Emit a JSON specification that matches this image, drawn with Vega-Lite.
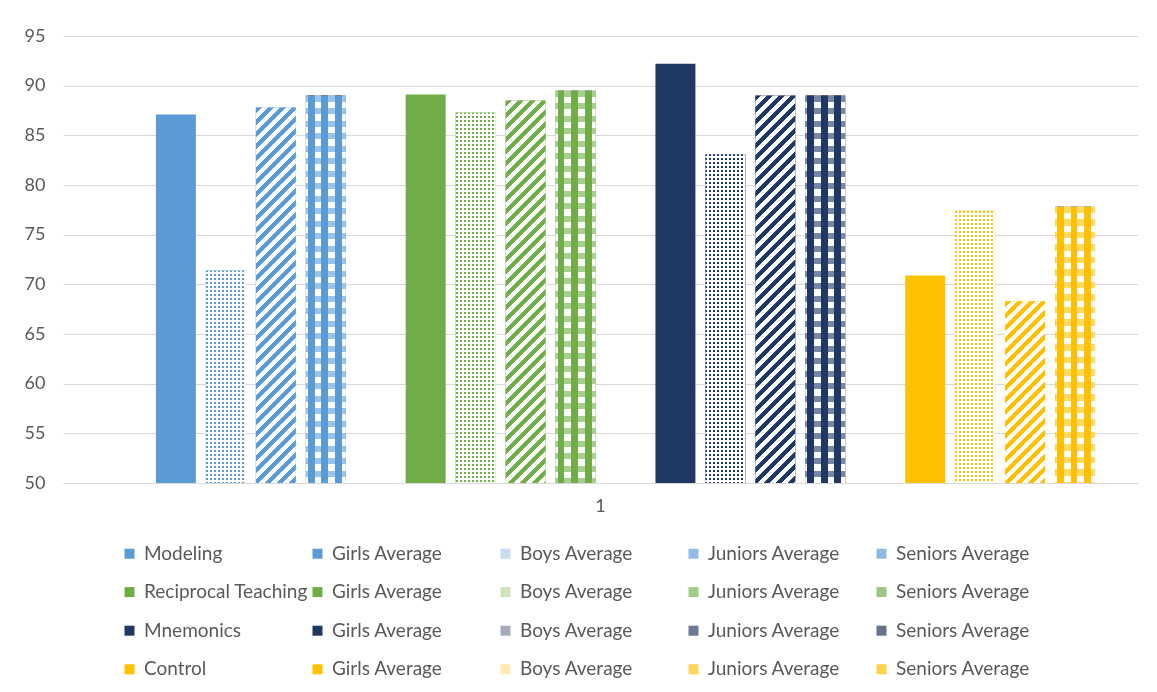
{
 "$schema": "https://vega.github.io/schema/vega-lite/v6.json",
 "width": 1075,
 "height": 447,
 "autosize": {"type": "none"},
 "padding": {"left": 63, "top": 36, "right": 19, "bottom": 209},
 "background": "white",
 "config": {"view": {"stroke": null}, "font": "Lato"},
 "params": [
  {"name": "stripes", "value": [
   {"offset":0,"color":"#fff0"},{"offset":0.0125,"color":"#fff0"},{"offset":0.0125,"color":"#fff"},{"offset":0.025,"color":"#fff"},
   {"offset":0.025,"color":"#fff0"},{"offset":0.0375,"color":"#fff0"},{"offset":0.0375,"color":"#fff"},{"offset":0.05,"color":"#fff"},
   {"offset":0.05,"color":"#fff0"},{"offset":0.0625,"color":"#fff0"},{"offset":0.0625,"color":"#fff"},{"offset":0.075,"color":"#fff"},
   {"offset":0.075,"color":"#fff0"},{"offset":0.0875,"color":"#fff0"},{"offset":0.0875,"color":"#fff"},{"offset":0.1,"color":"#fff"},
   {"offset":0.1,"color":"#fff0"},{"offset":0.1125,"color":"#fff0"},{"offset":0.1125,"color":"#fff"},{"offset":0.125,"color":"#fff"},
   {"offset":0.125,"color":"#fff0"},{"offset":0.1375,"color":"#fff0"},{"offset":0.1375,"color":"#fff"},{"offset":0.15,"color":"#fff"},
   {"offset":0.15,"color":"#fff0"},{"offset":0.1625,"color":"#fff0"},{"offset":0.1625,"color":"#fff"},{"offset":0.175,"color":"#fff"},
   {"offset":0.175,"color":"#fff0"},{"offset":0.1875,"color":"#fff0"},{"offset":0.1875,"color":"#fff"},{"offset":0.2,"color":"#fff"},
   {"offset":0.2,"color":"#fff0"},{"offset":0.2125,"color":"#fff0"},{"offset":0.2125,"color":"#fff"},{"offset":0.225,"color":"#fff"},
   {"offset":0.225,"color":"#fff0"},{"offset":0.2375,"color":"#fff0"},{"offset":0.2375,"color":"#fff"},{"offset":0.25,"color":"#fff"},
   {"offset":0.25,"color":"#fff0"},{"offset":0.2625,"color":"#fff0"},{"offset":0.2625,"color":"#fff"},{"offset":0.275,"color":"#fff"},
   {"offset":0.275,"color":"#fff0"},{"offset":0.2875,"color":"#fff0"},{"offset":0.2875,"color":"#fff"},{"offset":0.3,"color":"#fff"},
   {"offset":0.3,"color":"#fff0"},{"offset":0.3125,"color":"#fff0"},{"offset":0.3125,"color":"#fff"},{"offset":0.325,"color":"#fff"},
   {"offset":0.325,"color":"#fff0"},{"offset":0.3375,"color":"#fff0"},{"offset":0.3375,"color":"#fff"},{"offset":0.35,"color":"#fff"},
   {"offset":0.35,"color":"#fff0"},{"offset":0.3625,"color":"#fff0"},{"offset":0.3625,"color":"#fff"},{"offset":0.375,"color":"#fff"},
   {"offset":0.375,"color":"#fff0"},{"offset":0.3875,"color":"#fff0"},{"offset":0.3875,"color":"#fff"},{"offset":0.4,"color":"#fff"},
   {"offset":0.4,"color":"#fff0"},{"offset":0.4125,"color":"#fff0"},{"offset":0.4125,"color":"#fff"},{"offset":0.425,"color":"#fff"},
   {"offset":0.425,"color":"#fff0"},{"offset":0.4375,"color":"#fff0"},{"offset":0.4375,"color":"#fff"},{"offset":0.45,"color":"#fff"},
   {"offset":0.45,"color":"#fff0"},{"offset":0.4625,"color":"#fff0"},{"offset":0.4625,"color":"#fff"},{"offset":0.475,"color":"#fff"},
   {"offset":0.475,"color":"#fff0"},{"offset":0.4875,"color":"#fff0"},{"offset":0.4875,"color":"#fff"},{"offset":0.5,"color":"#fff"},
   {"offset":0.5,"color":"#fff0"},{"offset":0.5125,"color":"#fff0"},{"offset":0.5125,"color":"#fff"},{"offset":0.525,"color":"#fff"},
   {"offset":0.525,"color":"#fff0"},{"offset":0.5375,"color":"#fff0"},{"offset":0.5375,"color":"#fff"},{"offset":0.55,"color":"#fff"},
   {"offset":0.55,"color":"#fff0"},{"offset":0.5625,"color":"#fff0"},{"offset":0.5625,"color":"#fff"},{"offset":0.575,"color":"#fff"},
   {"offset":0.575,"color":"#fff0"},{"offset":0.5875,"color":"#fff0"},{"offset":0.5875,"color":"#fff"},{"offset":0.6,"color":"#fff"},
   {"offset":0.6,"color":"#fff0"},{"offset":0.6125,"color":"#fff0"},{"offset":0.6125,"color":"#fff"},{"offset":0.625,"color":"#fff"},
   {"offset":0.625,"color":"#fff0"},{"offset":0.6375,"color":"#fff0"},{"offset":0.6375,"color":"#fff"},{"offset":0.65,"color":"#fff"},
   {"offset":0.65,"color":"#fff0"},{"offset":0.6625,"color":"#fff0"},{"offset":0.6625,"color":"#fff"},{"offset":0.675,"color":"#fff"},
   {"offset":0.675,"color":"#fff0"},{"offset":0.6875,"color":"#fff0"},{"offset":0.6875,"color":"#fff"},{"offset":0.7,"color":"#fff"},
   {"offset":0.7,"color":"#fff0"},{"offset":0.7125,"color":"#fff0"},{"offset":0.7125,"color":"#fff"},{"offset":0.725,"color":"#fff"},
   {"offset":0.725,"color":"#fff0"},{"offset":0.7375,"color":"#fff0"},{"offset":0.7375,"color":"#fff"},{"offset":0.75,"color":"#fff"},
   {"offset":0.75,"color":"#fff0"},{"offset":0.7625,"color":"#fff0"},{"offset":0.7625,"color":"#fff"},{"offset":0.775,"color":"#fff"},
   {"offset":0.775,"color":"#fff0"},{"offset":0.7875,"color":"#fff0"},{"offset":0.7875,"color":"#fff"},{"offset":0.8,"color":"#fff"},
   {"offset":0.8,"color":"#fff0"},{"offset":0.8125,"color":"#fff0"},{"offset":0.8125,"color":"#fff"},{"offset":0.825,"color":"#fff"},
   {"offset":0.825,"color":"#fff0"},{"offset":0.8375,"color":"#fff0"},{"offset":0.8375,"color":"#fff"},{"offset":0.85,"color":"#fff"},
   {"offset":0.85,"color":"#fff0"},{"offset":0.8625,"color":"#fff0"},{"offset":0.8625,"color":"#fff"},{"offset":0.875,"color":"#fff"},
   {"offset":0.875,"color":"#fff0"},{"offset":0.8875,"color":"#fff0"},{"offset":0.8875,"color":"#fff"},{"offset":0.9,"color":"#fff"},
   {"offset":0.9,"color":"#fff0"},{"offset":0.9125,"color":"#fff0"},{"offset":0.9125,"color":"#fff"},{"offset":0.925,"color":"#fff"},
   {"offset":0.925,"color":"#fff0"},{"offset":0.9375,"color":"#fff0"},{"offset":0.9375,"color":"#fff"},{"offset":0.95,"color":"#fff"},
   {"offset":0.95,"color":"#fff0"},{"offset":0.9625,"color":"#fff0"},{"offset":0.9625,"color":"#fff"},{"offset":0.975,"color":"#fff"},
   {"offset":0.975,"color":"#fff0"},{"offset":0.9875,"color":"#fff0"},{"offset":0.9875,"color":"#fff"},{"offset":1,"color":"#fff"},
   {"offset":1,"color":"#fff0"}
  ]}
 ],
 "data": {"values": [
  {"category":"1","method":"Modeling","measure":"Girls Average","series":"Modeling:Girls Average","value":87.1},
  {"category":"1","method":"Modeling","measure":"Boys Average","series":"Modeling:Boys Average","value":71.4},
  {"category":"1","method":"Modeling","measure":"Juniors Average","series":"Modeling:Juniors Average","value":87.8},
  {"category":"1","method":"Modeling","measure":"Seniors Average","series":"Modeling:Seniors Average","value":89.0},
  {"category":"1","method":"Reciprocal Teaching","measure":"Girls Average","series":"Reciprocal Teaching:Girls Average","value":89.1},
  {"category":"1","method":"Reciprocal Teaching","measure":"Boys Average","series":"Reciprocal Teaching:Boys Average","value":87.3},
  {"category":"1","method":"Reciprocal Teaching","measure":"Juniors Average","series":"Reciprocal Teaching:Juniors Average","value":88.5},
  {"category":"1","method":"Reciprocal Teaching","measure":"Seniors Average","series":"Reciprocal Teaching:Seniors Average","value":89.5},
  {"category":"1","method":"Mnemonics","measure":"Girls Average","series":"Mnemonics:Girls Average","value":92.2},
  {"category":"1","method":"Mnemonics","measure":"Boys Average","series":"Mnemonics:Boys Average","value":83.1},
  {"category":"1","method":"Mnemonics","measure":"Juniors Average","series":"Mnemonics:Juniors Average","value":89.0},
  {"category":"1","method":"Mnemonics","measure":"Seniors Average","series":"Mnemonics:Seniors Average","value":89.0},
  {"category":"1","method":"Control","measure":"Girls Average","series":"Control:Girls Average","value":70.9},
  {"category":"1","method":"Control","measure":"Boys Average","series":"Control:Boys Average","value":77.4},
  {"category":"1","method":"Control","measure":"Juniors Average","series":"Control:Juniors Average","value":68.3},
  {"category":"1","method":"Control","measure":"Seniors Average","series":"Control:Seniors Average","value":77.8}
 ]},
 "encoding": {
  "x": {"field": "category", "type": "nominal",
   "scale": {"paddingInner": 0, "paddingOuter": 0.038},
   "axis": {"title": null, "labelAngle": 0, "ticks": false, "tickSize": 0, "labelPadding": 14, "labelFont": "Lato", "labelFontSize": 18, "labelColor": "#595959", "domainColor": "#D9D9D9", "domainWidth": 1, "grid": false}},
  "xOffset": {"field": "series", "type": "nominal",
   "scale": {"domain": ["Modeling","Modeling:Girls Average","Modeling:Boys Average","Modeling:Juniors Average","Modeling:Seniors Average","Reciprocal Teaching","Reciprocal Teaching:Girls Average","Reciprocal Teaching:Boys Average","Reciprocal Teaching:Juniors Average","Reciprocal Teaching:Seniors Average","Mnemonics","Mnemonics:Girls Average","Mnemonics:Boys Average","Mnemonics:Juniors Average","Mnemonics:Seniors Average","Control","Control:Girls Average","Control:Boys Average","Control:Juniors Average","Control:Seniors Average"], "paddingInner": 0.2, "paddingOuter": 0.1}},
  "y": {"field": "value", "type": "quantitative",
   "scale": {"domain": [50, 95], "zero": false, "nice": false},
   "axis": {"title": null, "values": [50,55,60,65,70,75,80,85,90,95], "ticks": false, "tickSize": 0, "domain": false, "labelPadding": 18, "labelFont": "Lato", "labelFontSize": 18, "labelColor": "#595959", "gridColor": "#D9D9D9", "gridWidth": 1}},
  "y2": {"datum": 50}
 },
 "layer": [
  {"mark": {"type": "bar", "strokeWidth": 0},
   "encoding": {"color": {"field": "series", "type": "nominal",
    "scale": {"domain": ["Modeling","Modeling:Girls Average","Modeling:Boys Average","Modeling:Juniors Average","Modeling:Seniors Average","Reciprocal Teaching","Reciprocal Teaching:Girls Average","Reciprocal Teaching:Boys Average","Reciprocal Teaching:Juniors Average","Reciprocal Teaching:Seniors Average","Mnemonics","Mnemonics:Girls Average","Mnemonics:Boys Average","Mnemonics:Juniors Average","Mnemonics:Seniors Average","Control","Control:Girls Average","Control:Boys Average","Control:Juniors Average","Control:Seniors Average"],
     "range": ["#5B9BD5","#5B9BD5","#C9DDF1","#94BDE5","#8DB9E2","#70AD47","#70AD47","#CDE4BE","#A3CA88","#9CC681","#203864","#203864","#A3ABBD","#6C7A96","#66738F","#FFC000","#FFC000","#FFEBB0","#FFD55C","#FFD14D"]},
    "legend": {"orient": "none", "legendX": 57, "legendY": 508, "direction": "horizontal", "columns": 5, "gridAlign": "all", "title": null, "symbolType": "square", "symbolSize": 100, "symbolStrokeWidth": 0, "labelFont": "Lato", "labelFontSize": 19, "labelColor": "#595959", "labelOffset": 5, "labelLimit": 400, "rowPadding": 18.6, "columnPadding": 0, "padding": 0,
     "labelExpr": "indexof(datum.label, ':') < 0 ? datum.label : substring(datum.label, indexof(datum.label, ':') + 1)"}}}},
  {"transform": [{"filter": {"field": "measure", "oneOf": ["Boys Average", "Juniors Average"]}}],
   "mark": {"type": "bar", "strokeWidth": 0},
   "encoding": {"fill": {"field": "method", "type": "nominal", "scale": {"domain": ["Modeling","Reciprocal Teaching","Mnemonics","Control"], "range": ["#5B9BD5","#70AD47","#203864","#FFC000"]}, "legend": null}}},
  {"transform": [{"filter": {"field": "measure", "equal": "Boys Average"}}],
   "mark": {"type": "bar", "strokeWidth": 0, "fill": {"expr": "{gradient:'linear',x1:0,y1:0,x2:160/bandwidth('xOffset'),y2:0,stops:stripes}"}}},
  {"transform": [{"filter": {"field": "measure", "equal": "Boys Average"}}],
   "mark": {"type": "bar", "strokeWidth": 0, "fill": {"expr": "{gradient:'linear',x1:0,y1:0,x2:0,y2:160/(scale('y',50)-scale('y',datum.value)),stops:stripes}"}}},
  {"transform": [{"filter": {"field": "measure", "equal": "Boys Average"}}],
   "mark": {"type": "bar", "strokeWidth": 0, "fill": {"expr": "{gradient:'linear',x1:0,y1:160/(scale('y',50)-scale('y',datum.value)),x2:0,y2:320/(scale('y',50)-scale('y',datum.value)),stops:stripes}"}}},
  {"transform": [{"filter": {"field": "measure", "equal": "Boys Average"}}],
   "mark": {"type": "bar", "strokeWidth": 0, "fill": {"expr": "{gradient:'linear',x1:0,y1:320/(scale('y',50)-scale('y',datum.value)),x2:0,y2:480/(scale('y',50)-scale('y',datum.value)),stops:stripes}"}}},
  {"transform": [{"filter": {"field": "measure", "equal": "Juniors Average"}}],
   "mark": {"type": "bar", "strokeWidth": 0, "fill": {"expr": "{gradient:'linear',x1:0,y1:0,x2:480*bandwidth('xOffset')/(pow(bandwidth('xOffset'),2)+pow(scale('y',50)-scale('y',datum.value),2)),y2:480*(scale('y',50)-scale('y',datum.value))/(pow(bandwidth('xOffset'),2)+pow(scale('y',50)-scale('y',datum.value),2)),stops:stripes}"}}},
  {"transform": [{"filter": {"field": "measure", "equal": "Seniors Average"}}],
   "mark": {"type": "bar", "strokeWidth": 0, "fill": "#666666"}},
  {"transform": [{"filter": {"field": "measure", "equal": "Seniors Average"}}],
   "mark": {"type": "bar", "strokeWidth": 0, "fill": {"expr": "{gradient:'linear',x1:0,y1:0,x2:0,y2:500/(scale('y',50)-scale('y',datum.value)),stops:stripes}"}}},
  {"transform": [{"filter": {"field": "measure", "equal": "Seniors Average"}}],
   "mark": {"type": "bar", "strokeWidth": 0, "fill": {"gradient": "linear", "x1": 0, "y1": 0, "x2": 1, "y2": 0, "stops": [
    {"offset":0,"color":"#0000"},{"offset":0.05,"color":"#0000"},{"offset":0.05,"color":"#000"},{"offset":0.22,"color":"#000"},
    {"offset":0.22,"color":"#0000"},{"offset":0.39,"color":"#0000"},{"offset":0.39,"color":"#000"},{"offset":0.56,"color":"#000"},
    {"offset":0.56,"color":"#0000"},{"offset":0.73,"color":"#0000"},{"offset":0.73,"color":"#000"},{"offset":0.9,"color":"#000"},
    {"offset":0.9,"color":"#0000"},{"offset":1,"color":"#0000"}]}}},
  {"transform": [{"filter": {"field": "measure", "equal": "Seniors Average"}}],
   "mark": {"type": "bar", "strokeWidth": 0, "blend": "screen"},
   "encoding": {"fill": {"field": "method", "type": "nominal", "scale": {"domain": ["Modeling","Reciprocal Teaching","Mnemonics","Control"], "range": ["#5B9BD5","#70AD47","#203864","#FFC000"]}, "legend": null}}}
 ]
}
